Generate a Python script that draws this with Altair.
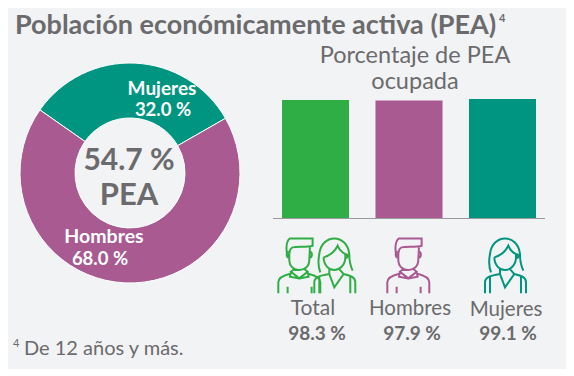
import altair as alt
import pandas as pd

BG = "#f2f3f5"
INK = "#6b6a6c"
GREEN, PURPLE, TEAL = "#2fae46", "#a85a91", "#009580"
FONT = "Lato"

donut_cats = ["Mujeres", "Hombres"]
donut_vals = [32.0, 68.0]
bar_cats = ["Total", "Hombres", "Mujeres"]
bar_vals = [98.3, 97.9, 99.1]
bar_labels = ["98.3 %", "97.9 %", "99.1 %"]

colors = alt.Scale(domain=["Total", "Hombres", "Mujeres"], range=[GREEN, PURPLE, TEAL])

MAN = ("M-30,-30 L-37,-35 C-40,-55 -38,-75 -28,-82 L40,-82 L40,-60 C25,-55 -5,-58 -20,-55 C-28,-52 -30,-45 -30,-30 "
       "M-30,-40 L-30,-18 C-30,3 -15,13 0,13 C15,13 30,3 30,-18 L32,-56 "
       "M-32,-42 C-40,-42 -40,-24 -30,-24 M32,-42 C40,-42 40,-24 30,-24 "
       "M-15,10 L-25,18 L0,38 L25,18 L15,10 M-25,18 L-28,33 L0,38 L28,33 L25,18 "
       "M-63,83 L-63,50 C-63,35 -45,28 -27,24 M63,83 L63,50 C63,35 45,28 27,24 "
       "M-35,63 L-35,83 M37,63 L37,83")
WOMAN = ("M-42,20 C-48,5 -48,-20 -45,-35 C-42,-65 -22,-82 0,-82 C22,-82 42,-65 45,-35 C45,-20 48,0 55,15 "
         "M-32,-25 C-32,0 -15,13 0,13 C15,13 33,0 33,-25 L33,-35 C22,-40 14,-50 10,-60 C0,-40 -15,-30 -32,-25 "
         "M33,-35 C42,-35 42,-22 33,-22 "
         "M-15,10 L-15,25 L0,65 L28,25 L15,10 "
         "M-60,83 L-60,50 C-60,35 -45,30 -15,25 M63,83 L63,50 C63,35 50,30 28,25 "
         "M-45,32 L-45,83 M48,32 L48,83")


def text(t, x, y, fs, bold=False, color=INK, align="center"):
    return alt.Chart(pd.DataFrame({"t": [t]})).mark_text(
        font=FONT, align=align, baseline="middle", fontSize=fs,
        fontWeight="bold" if bold else "normal", color=color,
    ).encode(x=alt.value(x), y=alt.value(y), text="t:N")


donut = alt.Chart(pd.DataFrame({"cat": donut_cats, "v": donut_vals, "i": [0, 1]})).mark_arc(
    outerRadius=110, innerRadius=55, stroke="white", strokeWidth=1
).encode(
    x=alt.value(122), y=alt.value(165),
    theta=alt.Theta("v:Q", stack=True, scale=alt.Scale(range=[-0.96, -0.96 + 6.2832])),
    order=alt.Order("i:Q"),
    color=alt.Color("cat:N", scale=colors, legend=None),
)

bars = alt.Chart(pd.DataFrame({"cat": bar_cats, "v": bar_vals})).mark_bar().encode(
    x=alt.X("cat:N", sort=bar_cats, axis=None,
            scale=alt.Scale(range=[274, 528], paddingInner=0.283, paddingOuter=0)),
    y=alt.Y("v:Q", axis=None, scale=alt.Scale(domain=[0, 100], range=[210, 90])),
    color=alt.Color("cat:N", scale=colors, legend=None),
)

base = alt.Chart(pd.DataFrame({"a": [1]})).mark_rule(color="#9a9a9c", strokeWidth=1).encode(
    x=alt.value(265), x2=alt.value(537), y=alt.value(210.5)
)


def icon(path, x, color):
    return alt.Chart(pd.DataFrame({"a": [1]})).mark_point(
        shape=path, size=0.444, filled=False, stroke=color, strokeWidth=2, opacity=1
    ).encode(x=alt.value(x), y=alt.value(257.7))


layers = [
    donut, bars, base,
    icon(MAN, 291.3, GREEN), icon(WOMAN, 326.3, GREEN),
    icon(MAN, 400.3, PURPLE), icon(WOMAN, 497, TEAL),
    text("Población económicamente activa (PEA)", 7, 18, 27, True, align="left"),
    text("4", 491, 11, 11, True, align="left"),
    text("Porcentaje de PEA", 407, 48, 23.5),
    text("ocupada", 407, 74, 23.5),
    text("Mujeres", 154, 81, 19, True, "white"),
    text("32.0 %", 155, 102, 18.5, True, "white"),
    text("Hombres", 96, 229, 19.5, True, "white"),
    text("68.0 %", 92, 251, 18.5, True, "white"),
    text("54.7 %", 121, 153, 30, True),
    text("PEA", 121, 188, 31, True),
    text("Total", 305, 301, 21),
    text("Hombres", 402, 301, 20.5),
    text("Mujeres", 498, 302, 20.5),
    text(bar_labels[0], 309, 326, 19, True),
    text(bar_labels[1], 404, 326, 19, True),
    text(bar_labels[2], 500, 326, 19, True),
    text("4", 5, 336, 11, align="left"),
    text("De 12 años y más.", 16, 341, 20, align="left"),
]

chart = alt.layer(*layers).resolve_scale(x="independent", y="independent", theta="independent").properties(
    width=558, height=361, background=BG, padding=0, autosize=alt.AutoSizeParams(type="none")
).configure_view(stroke=None, fill=BG)

chart.save("out.html", embed_options={"renderer": "svg", "actions": False})
